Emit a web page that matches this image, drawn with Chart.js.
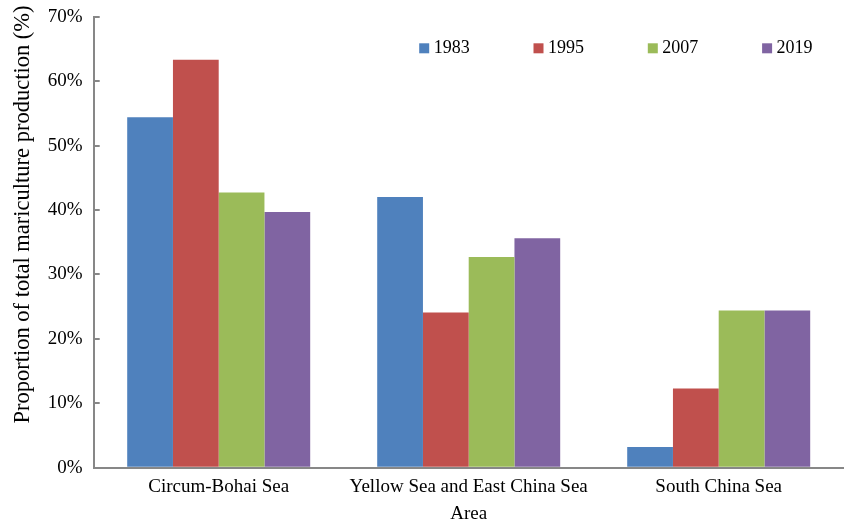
<!DOCTYPE html>
<html>
<head>
<meta charset="utf-8">
<script src="https://cdn.jsdelivr.net/npm/chart.js@4/dist/chart.umd.min.js"></script>
<style>
  html, body { margin: 0; padding: 0; background: #ffffff; }
  #wrap { width: 845px; height: 525px; position: relative; }
</style>
</head>
<body>
<div id="wrap"><canvas id="chart"></canvas></div>
<script>
// Share of national mariculture output by sea area (%)
const areas = ['Circum-Bohai Sea', 'Yellow Sea and East China Sea', 'South China Sea'];
const years = ['1983', '1995', '2007', '2019'];
const share1983 = [54.4, 42.0, 3.2];
const share1995 = [63.3, 24.1, 12.3];
const share2007 = [42.7, 32.7, 24.4];
const share2019 = [39.7, 35.6, 24.4];
const yTickValues = [0, 10, 20, 30, 40, 50, 60, 70];
const yTitle = 'Proportion of total mariculture production (%)';
const xTitle = 'Area';

const seriesValues = [share1983, share1995, share2007, share2019];
const palette = ['#4F81BD', '#C0504D', '#9BBB59', '#8064A2'];
const axisGray = '#878787';
const serif = '"Liberation Serif", "Times New Roman", serif';

// Legend drawn inside the plot, top right, in one row
const insideLegend = {
  id: 'insideLegend',
  afterDraw(chart) {
    const ctx = chart.ctx;
    const area = chart.chartArea;
    ctx.save();
    ctx.font = '18px ' + serif;
    ctx.textBaseline = 'middle';
    ctx.textAlign = 'left';
    chart.data.datasets.forEach((ds, i) => {
      const x = area.left + 325.5 + i * 114.3;
      const y = 48.3;
      ctx.fillStyle = ds.backgroundColor;
      ctx.fillRect(x, y - 5, 10, 10);
      ctx.fillStyle = '#000000';
      ctx.fillText(ds.label, x + 14.5, y);
    });
    ctx.restore();
  }
};

// Rotated value-axis title
const valueAxisTitle = {
  id: 'valueAxisTitle',
  afterDraw(chart) {
    const ctx = chart.ctx;
    ctx.save();
    ctx.translate(23, 214.5);
    ctx.rotate(-Math.PI / 2);
    ctx.font = '22.5px ' + serif;
    ctx.fillStyle = '#000000';
    ctx.textAlign = 'center';
    ctx.textBaseline = 'middle';
    ctx.fillText(yTitle, 0, 0);
    ctx.restore();
  }
};

new Chart(document.getElementById('chart'), {
  type: 'bar',
  data: {
    labels: areas,
    datasets: years.map((yr, i) => ({
      label: yr,
      data: seriesValues[i],
      backgroundColor: palette[i],
      borderWidth: 0,
      categoryPercentage: 0.732,
      barPercentage: 1.0
    }))
  },
  options: {
    responsive: true,
    maintainAspectRatio: false,
    animation: false,
    devicePixelRatio: 1,
    layout: { padding: { top: 16.7, right: 1.3, left: 0, bottom: 0 } },
    plugins: {
      legend: { display: false },
      tooltip: { enabled: false }
    },
    scales: {
      x: {
        grid: { display: true, drawOnChartArea: false, drawTicks: false },
        border: { display: true, color: axisGray, width: 2 },
        ticks: {
          color: '#000000',
          font: { family: serif, size: 19 },
          padding: 8,
          maxRotation: 0,
          autoSkip: false
        },
        title: {
          display: true,
          text: xTitle,
          color: '#000000',
          font: { family: serif, size: 19 },
          padding: { top: 0, bottom: 0 }
        },
        afterFit(scale) {
          scale.height = 57.3;
          scale.paddingLeft = 0;
          scale.paddingRight = 0;
        }
      },
      y: {
        min: 0,
        max: 70,
        afterBuildTicks(scale) {
          scale.ticks = yTickValues.map(v => ({ value: v }));
        },
        grid: {
          display: true,
          drawOnChartArea: false,
          drawTicks: true,
          tickLength: -6,
          color: axisGray,
          lineWidth: 2
        },
        border: { display: true, color: axisGray, width: 2 },
        ticks: {
          color: '#000000',
          font: { family: serif, size: 19 },
          padding: 17,
          callback: v => v + '%'
        },
        title: { display: false },
        afterFit(scale) {
          scale.width = 93.7;
          scale.paddingTop = 0;
          scale.paddingBottom = 0;
        }
      }
    }
  },
  plugins: [insideLegend, valueAxisTitle]
});
</script>
</body>
</html>
